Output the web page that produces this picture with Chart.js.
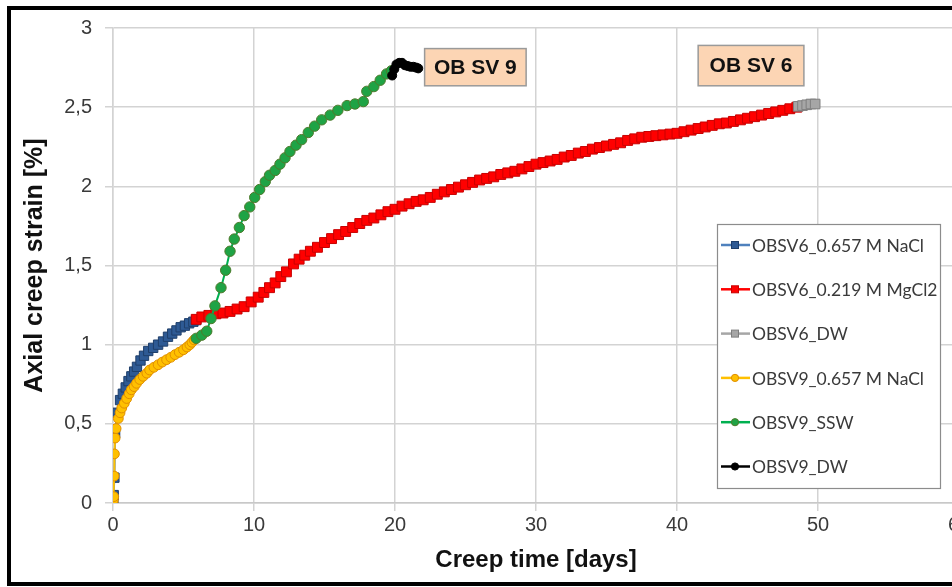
<!DOCTYPE html>
<html><head><meta charset="utf-8">
<script src="https://cdn.jsdelivr.net/npm/chart.js@4"></script>
<style>
html,body{margin:0;padding:0;background:#fff;overflow:hidden;width:952px;height:587px;}
#wrap{position:absolute;left:0;top:0;width:1000px;height:587px;}
#frame{position:absolute;left:7px;top:6px;width:1100px;height:572px;border:4px solid #000;pointer-events:none;}
</style></head><body>
<div id="wrap"><canvas id="c" width="1000" height="587"></canvas></div>
<div id="frame"></div>
<script>
// ---- data ----
const xTickValues = [0, 10, 20, 30, 40, 50, 60];
const yTickValues = [0, 0.5, 1, 1.5, 2, 2.5, 3];
const yTickLabels = ['0', '0,5', '1', '1,5', '2', '2,5', '3'];
const seriesNames = ['OBSV6_0.657 M NaCl', 'OBSV6_0.219 M MgCl2', 'OBSV6_DW', 'OBSV9_0.657 M NaCl', 'OBSV9_SSW', 'OBSV9_DW'];
const annotationTexts = ['OB SV 9', 'OB SV 6'];

const sv6NaclT = [0,0.02,0.05,0.1,0.15,0.3,0.5,0.7,0.9,1.1,1.3,1.5,1.7,1.95,2.2,2.5,2.85,3.2,3.55,3.9,4.2,4.5,4.8,5.1,5.4,5.7,5.9];
const sv6NaclV = [0,0.02,0.05,0.16,0.44,0.57,0.65,0.69,0.73,0.77,0.80,0.83,0.86,0.90,0.93,0.96,0.98,1.00,1.02,1.05,1.07,1.09,1.11,1.12,1.135,1.145,1.155];

const sv6MgT = [5.9,6.3,6.8,7.3,7.8,8.3,8.8,9.3,9.8,10.3,10.7,11.1,11.5,11.9,12.3,12.8,13.2,13.6,14.0,14.5,15.0,15.5,16.0,16.5,17.0,17.5,18.0,18.5,19.0,19.5,20.0,20.5,21.0,21.5,22.0,22.5,23.0,23.5,24.0,24.5,25.0,25.5,26.0,26.5,27.0,27.5,28.0,28.5,29.0,29.5,30.0,30.5,31.0,31.5,32.0,32.5,33.0,33.5,34.0,34.5,35.0,35.5,36.0,36.5,37.0,37.5,38.0,38.5,39.0,39.5,40.0,40.5,41.0,41.5,42.0,42.5,43.0,43.5,44.0,44.5,45.0,45.5,46.0,46.5,47.0,47.5,48.0,48.5];
const sv6MgV = [1.16,1.175,1.185,1.195,1.2,1.21,1.225,1.24,1.27,1.30,1.33,1.36,1.39,1.43,1.46,1.51,1.54,1.565,1.59,1.615,1.645,1.67,1.695,1.715,1.74,1.765,1.785,1.80,1.82,1.84,1.855,1.875,1.89,1.905,1.915,1.93,1.95,1.965,1.98,1.995,2.01,2.025,2.04,2.05,2.06,2.075,2.085,2.095,2.11,2.125,2.14,2.15,2.16,2.17,2.185,2.195,2.21,2.22,2.235,2.245,2.255,2.265,2.275,2.29,2.30,2.31,2.315,2.32,2.325,2.33,2.335,2.345,2.355,2.365,2.375,2.385,2.395,2.40,2.41,2.42,2.43,2.44,2.45,2.46,2.47,2.48,2.49,2.50];

const sv6DwT = [48.6,48.9,49.2,49.5,49.8];
const sv6DwV = [2.505,2.51,2.515,2.52,2.52];

const sv9NaclT = [0,0.02,0.05,0.08,0.1,0.15,0.22,0.38,0.5,0.62,0.8,0.97,1.15,1.3,1.5,1.67,1.9,2.14,2.4,2.6,2.9,3.2,3.5,3.8,4.1,4.4,4.7,5.0,5.25,5.45,5.6,5.75];
const sv9NaclV = [0,0.02,0.04,0.17,0.31,0.41,0.47,0.534,0.57,0.60,0.63,0.66,0.69,0.715,0.735,0.756,0.78,0.80,0.82,0.84,0.857,0.873,0.89,0.905,0.92,0.937,0.952,0.968,0.985,1.0,1.015,1.03];

const sv9SswT = [5.9,6.3,6.65,6.95,7.23,7.66,7.99,8.3,8.6,8.96,9.3,9.7,10.05,10.4,10.8,11.1,11.5,11.84,12.2,12.55,12.98,13.38,13.85,14.3,14.8,15.4,15.95,16.6,17.16,17.75,18.0,18.5,18.95,19.4,19.75];
const sv9SswV = [1.04,1.06,1.085,1.165,1.245,1.36,1.47,1.59,1.667,1.74,1.815,1.87,1.93,1.98,2.03,2.07,2.10,2.14,2.18,2.22,2.26,2.295,2.34,2.38,2.42,2.45,2.48,2.51,2.52,2.535,2.60,2.63,2.67,2.71,2.73];

const sv9DwT = [19.8,19.95,20.1,20.3,20.5,20.7,20.9,21.1,21.3,21.5,21.65];
const sv9DwV = [2.70,2.74,2.77,2.78,2.78,2.765,2.76,2.755,2.755,2.75,2.745];

// ---- styles ----
const styles = [
  {fill:'#2e5a94', edge:'#1f3f6b', line:'#4f81bd', shape:'rect', r:6.6},
  {fill:'#ff0000', edge:'#c80000', line:'#ff0000', shape:'rect', r:7.0},
  {fill:'#a6a6a6', edge:'#7f7f7f', line:'#a6a6a6', shape:'rect', r:6.8},
  {fill:'#ffc000', edge:'#e08e00', line:'#ffc000', shape:'circle', r:4.9},
  {fill:'#1fa345', edge:'#4e7a2c', line:'#00b050', shape:'circle', r:5.2},
  {fill:'#000000', edge:'#000000', line:'#000000', shape:'circle', r:4.5}
];
const seriesT = [sv6NaclT, sv6MgT, sv6DwT, sv9NaclT, sv9SswT, sv9DwT];
const seriesV = [sv6NaclV, sv6MgV, sv6DwV, sv9NaclV, sv9SswV, sv9DwV];

const datasets = seriesNames.map((name, i) => ({
  label: name,
  data: seriesT[i].map((t, k) => ({x: t, y: seriesV[i][k]})),
  showLine: true,
  borderColor: styles[i].line,
  borderWidth: 2,
  pointStyle: styles[i].shape,
  pointRadius: styles[i].r,
  pointBackgroundColor: styles[i].fill,
  pointBorderColor: styles[i].edge,
  pointBorderWidth: 1,
  order: seriesNames.length - 1 - i
}));

const annotationBoxes = [
  {x0: 22.1, x1: 29.3, y0: 2.87, y1: 2.635},
  {x0: 41.5, x1: 49.0, y0: 2.89, y1: 2.635}
];

const annotationPlugin = {
  id: 'obBoxes',
  afterDatasetsDraw(chart) {
    const {ctx, scales: {x, y}} = chart;
    ctx.save();
    annotationBoxes.forEach((b, i) => {
      const l = x.getPixelForValue(b.x0), r = x.getPixelForValue(b.x1);
      const t = y.getPixelForValue(b.y0), bt = y.getPixelForValue(b.y1);
      ctx.fillStyle = '#fcd5b4';
      ctx.fillRect(l, t, r - l, bt - t);
      ctx.strokeStyle = '#9a9a9a';
      ctx.lineWidth = 1.5;
      ctx.strokeRect(l, t, r - l, bt - t);
      ctx.fillStyle = '#111';
      ctx.font = 'bold 21px "Liberation Sans", Arial, sans-serif';
      ctx.textAlign = 'center';
      ctx.textBaseline = 'middle';
      ctx.fillText(annotationTexts[i], (l + r) / 2, (t + bt) / 2 + 1);
    });
    ctx.restore();
  }
};

const legendBox = {left: 717, top: 224, right: 940, bottom: 488, firstY: 245, step: 44.3};
const legendPlugin = {
  id: 'boxLegend',
  afterDraw(chart) {
    const ctx = chart.ctx;
    ctx.save();
    ctx.fillStyle = '#fff';
    ctx.fillRect(legendBox.left, legendBox.top, legendBox.right - legendBox.left, legendBox.bottom - legendBox.top);
    ctx.strokeStyle = '#8c8c8c';
    ctx.lineWidth = 1.2;
    ctx.strokeRect(legendBox.left + 0.5, legendBox.top + 0.5, legendBox.right - legendBox.left, legendBox.bottom - legendBox.top);
    chart.data.datasets.forEach((ds, i) => {
      const st = styles[i];
      const cy = legendBox.firstY + i * legendBox.step;
      ctx.strokeStyle = st.line;
      ctx.lineWidth = 2.5;
      ctx.beginPath(); ctx.moveTo(721, cy); ctx.lineTo(750, cy); ctx.stroke();
      ctx.fillStyle = st.fill;
      ctx.strokeStyle = st.edge;
      ctx.lineWidth = 1;
      if (st.shape === 'rect') {
        ctx.fillRect(731.5, cy - 3.5, 7, 7);
        ctx.strokeRect(731.5, cy - 3.5, 7, 7);
      } else {
        ctx.beginPath(); ctx.arc(735, cy, 3.6, 0, Math.PI * 2); ctx.fill(); ctx.stroke();
      }
      ctx.fillStyle = '#3a3a3a';
      ctx.font = '17.5px Lato, "Open Sans", sans-serif';
      ctx.textAlign = 'left';
      ctx.textBaseline = 'middle';
      ctx.fillText(ds.label, 752, cy + 1);
    });
    ctx.restore();
  }
};

const gridColor = '#d3d3d3';
new Chart(document.getElementById('c'), {
  type: 'scatter',
  data: {datasets},
  plugins: [annotationPlugin, legendPlugin],
  options: {
    responsive: false,
    animation: false,
    layout: {padding: {left: 0, top: 28, right: 41, bottom: 0}},
    plugins: {legend: {display: false}, tooltip: {enabled: false}},
    scales: {
      x: {
        type: 'linear', min: 0, max: 60,
        afterBuildTicks: s => { s.ticks = xTickValues.map(v => ({value: v})); },
        afterFit: s => { s.height = 84; },
        ticks: {color: '#3a3a3a', font: {family: '"Liberation Sans", Arial, sans-serif', size: 20}, padding: 2, maxRotation: 0, autoSkip: false},
        grid: {color: gridColor, lineWidth: 1.5, tickLength: 8},
        border: {color: '#c8c8c8', width: 1.5},
        title: {display: true, text: 'Creep time [days]', color: '#111',
          font: {family: '"Liberation Sans", Arial, sans-serif', size: 24, weight: 'bold'},
          padding: {top: 0, bottom: 12}}
      },
      y: {
        type: 'linear', min: 0, max: 3,
        afterBuildTicks: s => { s.ticks = yTickValues.map(v => ({value: v})); },
        afterFit: s => { s.width = 113; },
        ticks: {color: '#3a3a3a', font: {family: '"Liberation Sans", Arial, sans-serif', size: 20}, padding: 13,
          callback: (v, i) => yTickLabels[i]},
        grid: {color: gridColor, lineWidth: 1.5, tickLength: 8},
        border: {color: gridColor, width: 1.5},
        title: {display: true, text: 'Axial creep strain [%]', color: '#111',
          font: {family: '"Liberation Sans", Arial, sans-serif', size: 25, weight: 'bold'},
          padding: {top: 20, bottom: 0}}
      }
    }
  }
});
</script>
</body></html>
